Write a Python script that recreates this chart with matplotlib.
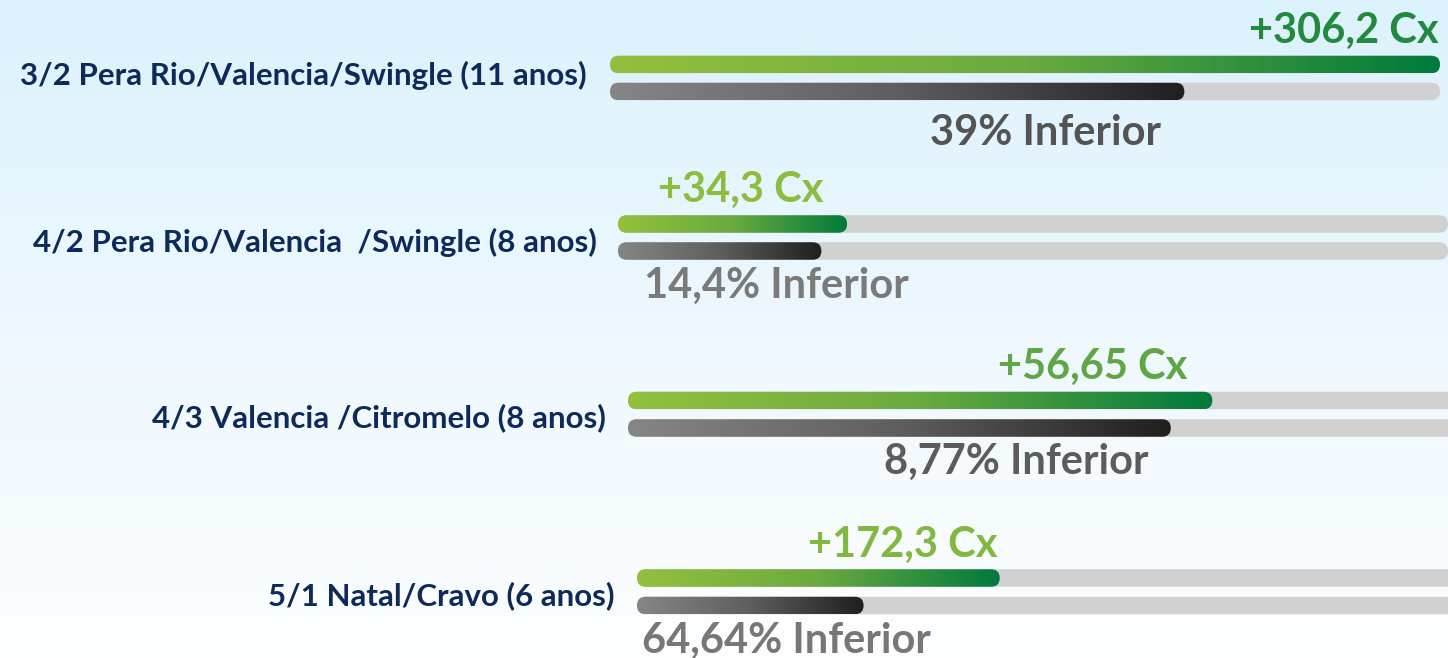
import numpy as np
import matplotlib
matplotlib.use("Agg")
import matplotlib.pyplot as plt
from matplotlib.patches import FancyBboxPatch
from matplotlib.colors import LinearSegmentedColormap

# dados (fração da trilha preenchida por cada barra)
categorias = [
    "3/2 Pera Rio/Valencia/Swingle (11 anos)",
    "4/2 Pera Rio/Valencia  /Swingle (8 anos)",
    "4/3 Valencia /Citromelo (8 anos)",
    "5/1 Natal/Cravo (6 anos)",
]
verde = [1.0, 0.276, 0.704, 0.437]
cinza = [0.692, 0.245, 0.654, 0.273]
rotulos_verde = ["+306,2 Cx", "+34,3 Cx", "+56,65 Cx", "+172,3 Cx"]
rotulos_cinza = ["39% Inferior", "14,4% Inferior", "8,77% Inferior", "64,64% Inferior"]

# layout (pixels)
W, H = 1448, 658
TRILHA = 830
ALT = 17.5
x0 = [610, 618, 628, 637]
y_verde = [64.5, 224, 400.5, 578]
y_cinza = [91.5, 251, 428, 605.5]
lab_x = [587, 597, 606, 614]
lab_y = [85, 252, 427, 605]
gv_pos = [(1439, 43, "right"), (658, 202, "left"), (1093, 379, "center"), (903, 557, "center")]
gc_pos = [(1046, 145, "center"), (644, 298, "left"), (1016, 474, "center"), (642, 653, "left")]
gv_cor = ["#23893d", "#8dbd3f", "#5ea744", "#80b840"]
gc_cor = ["#545454", "#7a7a7a", "#5c5c5c", "#777777"]

cmap_verde = LinearSegmentedColormap.from_list("v", ["#94c03e", "#6aaa40", "#007a3c"])
cmap_cinza = LinearSegmentedColormap.from_list("c", ["#868686", "#5e5e5e", "#1f1f1f"])
cmap_fundo = LinearSegmentedColormap.from_list("f", ["#dcf2fd", "#eef8fe", "#fdfeff"])

plt.rcParams["font.family"] = ["Lato", "DejaVu Sans"]

fig = plt.figure(figsize=(W / 100, H / 100), dpi=100)
ax = fig.add_axes([0, 0, 1, 1])
ax.axis("off")

# fundo em degradê
ax.imshow(np.linspace(0, 1, 256).reshape(-1, 1), extent=[0, W, H, 0],
          cmap=cmap_fundo, aspect="auto", zorder=0)


def barra(x, yc, w, cor=None, cmap=None):
    p = FancyBboxPatch((x, yc - ALT / 2), w, ALT,
                       boxstyle=f"round,pad=0,rounding_size={ALT / 2}",
                       fc=cor if cor else "none", ec="none", zorder=2)
    ax.add_patch(p)
    if cmap is not None:
        grad = np.linspace(0, 1, 256).reshape(1, -1)
        im = ax.imshow(grad, extent=[x, x + w, yc + ALT / 2, yc - ALT / 2],
                       cmap=cmap, aspect="auto", zorder=3)
        im.set_clip_path(p)


for i, cat in enumerate(categorias):
    barra(x0[i], y_verde[i], TRILHA, cor="#d1d1d1")
    barra(x0[i], y_cinza[i], TRILHA, cor="#d1d1d1")
    barra(x0[i], y_verde[i], verde[i] * TRILHA, cmap=cmap_verde)
    barra(x0[i], y_cinza[i], cinza[i] * TRILHA, cmap=cmap_cinza)

    ax.text(lab_x[i], lab_y[i], cat, ha="right", va="baseline",
            fontsize=22.5, fontweight="bold", color="#0e2a5b", zorder=4)
    gx, gy, gha = gv_pos[i]
    ax.text(gx, gy, rotulos_verde[i], ha=gha, va="baseline",
            fontsize=30, fontweight="bold", color=gv_cor[i], zorder=4)
    cx, cy, cha = gc_pos[i]
    ax.text(cx, cy, rotulos_cinza[i], ha=cha, va="baseline",
            fontsize=30, fontweight="bold", color=gc_cor[i], zorder=4)

ax.set_xlim(0, W)
ax.set_ylim(H, 0)

fig.savefig("out.png", dpi=100)
